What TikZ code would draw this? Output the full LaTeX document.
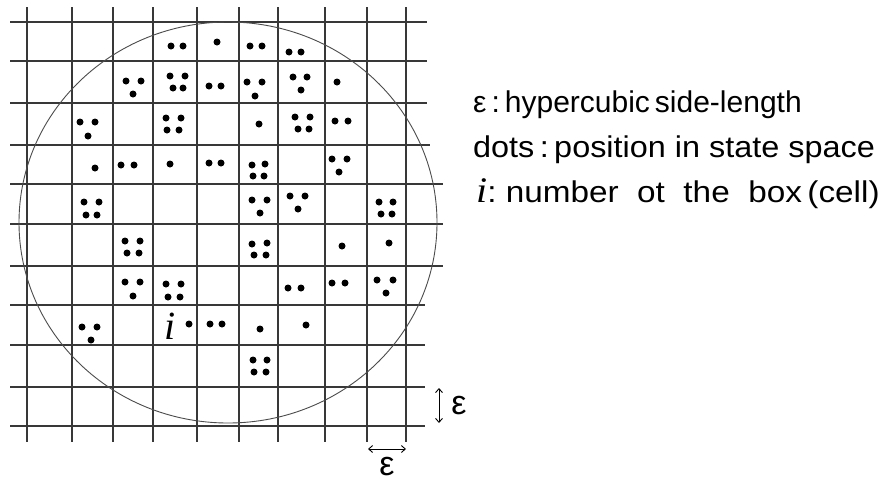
\documentclass[tikz,border=0pt]{standalone}
\usepackage{fontspec}
\setmainfont{Liberation Sans}
\newfontfamily\serifit{Liberation Serif}
\usetikzlibrary{arrows.meta}
\begin{document}
\begin{tikzpicture}[x=1pt,y=-1pt,
  gridline/.style={line width=1.6pt, draw=black!78},
  ring/.style={line width=0.9pt, draw=black!70},
  dotmark/.style={fill=black},
  legend/.style={anchor=base west, inner sep=0pt, font=\fontsize{30}{32}\selectfont},
  scalearrow/.style={line width=0.9pt, {Straight Barb[length=4pt,width=7pt]}-{Straight Barb[length=4pt,width=7pt]}},
  epslabel/.style={inner sep=0pt, font=\fontsize{34}{36}\selectfont}]
\useasboundingbox (0,0) rectangle (882,482);
\fill[white] (0,0) rectangle (882,482);
% grid
\foreach \x in {27,72,113,153,197,239,278,325,367,406}
  \draw[gridline] (\x,7) -- (\x,442);
\foreach \y in {22,61,103}
  \draw[gridline] (10,\y) -- (427,\y);
\draw[gridline] (10,145) -- (430,145);
\foreach \y in {184,224,266}
  \draw[gridline] (10,\y) -- (443,\y);
\foreach \y in {305,345,387,426}
  \draw[gridline] (10,\y) -- (425,\y);
% circle
\draw[ring] (228,222.5) ellipse [x radius=209, y radius=200.5];
% dots
\foreach \p in {(171,46),(183,46),(217,42),(250,46),(262,46),(289,52),(301,52),
  (126,81),(141,81),(133,94),(170,76),(185,76),(173,88),(183,88),(209,86),(221,86),(247,82),(262,82),(255,96),(293,77),(307,77),(301,90),(337,82),
  (80,122),(95,122),(88,136),(166,118),(181,118),(167,130),(179,130),(259,124),(295,117),(310,117),(298,129),(309,129),(335,121),(348,121),
  (95,168),(121,165),(134,165),(170,164),(209,163),(221,163),(252,165),(265,164),(253,176),(264,176),(332,159),(347,159),(339,172),
  (84,202),(99,202),(86,215),(97,215),(252,200),(267,200),(260,213),(290,196),(305,196),(298,209),(379,202),(393,202),(381,214),(392,214),
  (125,241),(140,241),(127,253),(139,253),(252,244),(267,243),(254,255),(266,255),(342,246),(389,243),
  (125,282),(140,282),(133,296),(166,284),(181,284),(168,297),(180,297),(288,288),(301,288),(332,283),(345,283),(377,280),(393,280),(386,293),
  (82,327),(97,327),(91,340),(189,324),(210,324),(222,324),(260,329),(306,325),
  (253,360),(267,360),(254,372),(266,372)}
  \fill[dotmark] \p circle [radius=3.5];
% cell label i
\node[inner sep=0pt, font=\serifit\itshape\fontsize{40}{42}\selectfont] (celli) at (170,326) {i};
% scale arrows
\coordinate (vtop) at (439,388);
\coordinate (vbot) at (439,423);
\coordinate (hl) at (368,449);
\coordinate (hr) at (406,449);
\draw[scalearrow] (vtop) -- (vbot);
\draw[scalearrow] (hl) -- (hr);
\node[epslabel] (epsv) at (459,406) {ε};
\node[epslabel] (epsh) at (387,467) {ε};
% legend
\node[legend] (leg1) at (473,112) {\scalebox{1.0}[1]{ε\,:\,hypercubic\,side-length}};
\node[legend] (leg2) at (473,157) {\scalebox{1.08}[1]{dots\,:\,position in state space}};
\node[legend] (leg3) at (476,202) {\scalebox{1.11}[1]{{\serifit\itshape\fontsize{36}{38}\selectfont i}:\ number\ \ ot\ \ the\ \ box\,(cell)}};
\end{tikzpicture}
\end{document}
